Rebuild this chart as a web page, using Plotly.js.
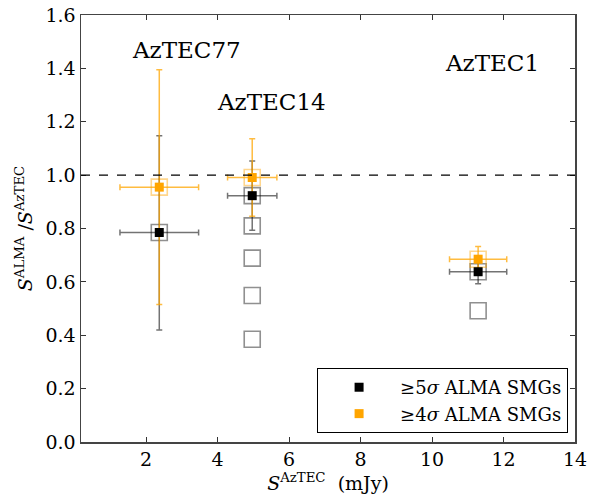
<!DOCTYPE html>
<html>
<head>
<meta charset="utf-8">
<script src="https://cdn.plot.ly/plotly-3.0.1.min.js"></script>
<style>html,body{margin:0;padding:0;background:#fff;}#chart{width:597px;height:495px;}</style>
</head>
<body>
<div id="chart"></div>
<script>
// ≥5σ ALMA SMGs (filled black)
const x5 = [2.37, 4.97, 11.29];
const y5 = [0.785, 0.923, 0.638];
const x5err = [1.1, 0.69, 0.8];
const y5errPlus = [0.363, 0.13, 0.045];
const y5errMinus = [0.365, 0.13, 0.045];

// ≥4σ ALMA SMGs (filled orange)
const x4 = [2.37, 4.97, 11.29];
const y4 = [0.955, 0.991, 0.685];
const x4err = [1.1, 0.69, 0.8];
const y4err = [0.44, 0.145, 0.048];

// open squares (all individual sources)
const xOpen = [2.37, 4.97, 4.97, 4.97, 4.97, 4.97, 11.29, 11.29];
const yOpen = [0.785, 0.923, 0.81, 0.689, 0.549, 0.385, 0.638, 0.492];

// labels
const labelText = ["AzTEC77", "AzTEC14", "AzTEC1"];
const labelX = [3.12, 5.52, 11.68];
const labelY = [1.47, 1.275, 1.42];

const refLine = 1.0;
const xTicks = [2, 4, 6, 8, 10, 12, 14];
const yTicks = [0.0, 0.2, 0.4, 0.6, 0.8, 1.0, 1.2, 1.4, 1.6];

const serif = "DejaVu Serif";

const traces = [
  {
    x: xOpen, y: yOpen, type: "scatter", mode: "markers", showlegend: false, hoverinfo: "skip",
    marker: {symbol: "square-open", size: 16, color: "rgba(70,70,70,0.6)", line: {width: 1.6}}
  },
  {
    x: x4, y: y4, type: "scatter", mode: "markers", showlegend: false, hoverinfo: "skip",
    marker: {symbol: "square-open", size: 16, color: "rgba(255,165,0,0.45)", line: {width: 1.6}}
  },
  {
    x: x5, y: y5, type: "scatter", mode: "markers", showlegend: false,
    marker: {symbol: "square", size: 0.1, color: "rgba(0,0,0,0)"},
    error_x: {type: "data", array: x5err, color: "rgba(0,0,0,0.55)", thickness: 1.5, width: 3},
    error_y: {type: "data", symmetric: false, array: y5errPlus, arrayminus: y5errMinus, color: "rgba(0,0,0,0.55)", thickness: 1.5, width: 3}
  },
  {
    x: x4, y: y4, type: "scatter", mode: "markers", showlegend: false,
    marker: {symbol: "square", size: 0.1, color: "rgba(0,0,0,0)"},
    error_x: {type: "data", array: x4err, color: "rgba(255,165,0,0.75)", thickness: 1.5, width: 3},
    error_y: {type: "data", array: y4err, color: "rgba(255,165,0,0.75)", thickness: 1.5, width: 3}
  },
  {
    x: x5, y: y5, type: "scatter", mode: "markers", name: "≥5<i>σ</i> ALMA SMGs",
    marker: {symbol: "square", size: 9, color: "#000000"}
  },
  {
    x: x4, y: y4, type: "scatter", mode: "markers", name: "≥4<i>σ</i> ALMA SMGs",
    marker: {symbol: "square", size: 9, color: "#FFA500"}
  }
];

const annotations = labelText.map((t, i) => ({
  x: labelX[i], y: labelY[i], xref: "x", yref: "y", text: t, showarrow: false,
  font: {family: serif, size: 23, color: "#000"}, xanchor: "center", yanchor: "middle"
}));

const layout = {
  width: 597, height: 495,
  margin: {l: 81, r: 22, t: 15, b: 53},
  paper_bgcolor: "#fff", plot_bgcolor: "#fff",
  showlegend: true,
  legend: {
    x: 0.986, y: 0.021, xanchor: "right", yanchor: "bottom",
    bgcolor: "#fff", bordercolor: "#000", borderwidth: 1,
    font: {family: serif, size: 18, color: "#000"}, traceorder: "normal",
    itemwidth: 72, tracegroupgap: 0
  },
  xaxis: {
    range: [0.18, 14], tickvals: xTicks, ticktext: xTicks.map(String),
    ticks: "inside", ticklen: 5, tickcolor: "#333", tickwidth: 1,
    showline: true, linecolor: "#444", linewidth: 1.5, mirror: "ticks",
    showgrid: false, zeroline: false,
    tickfont: {family: serif, size: 19, color: "#000"},
    title: {text: "<i>S</i><sup>AzTEC</sup>  (mJy)", font: {family: serif, size: 19, color: "#000"}, standoff: 4}
  },
  yaxis: {
    range: [0, 1.6], tickvals: yTicks, ticktext: yTicks.map(v => v.toFixed(1)),
    ticks: "inside", ticklen: 5, tickcolor: "#333", tickwidth: 1,
    showline: true, linecolor: "#444", linewidth: 1.5, mirror: "ticks",
    showgrid: false, zeroline: false,
    tickfont: {family: serif, size: 19, color: "#000"},
    title: {text: "<i>S</i><sup>ALMA</sup> /<i>S</i><sup>AzTEC</sup>", font: {family: serif, size: 19, color: "#000"}, standoff: 8}
  },
  shapes: [{
    type: "line", xref: "paper", x0: 0, x1: 1, yref: "y", y0: refLine, y1: refLine,
    line: {color: "#000", width: 1.2, dash: "dash"}
  }],
  annotations: annotations
};

Plotly.newPlot("chart", traces, layout, {displayModeBar: false, staticPlot: true});
</script>
</body>
</html>
